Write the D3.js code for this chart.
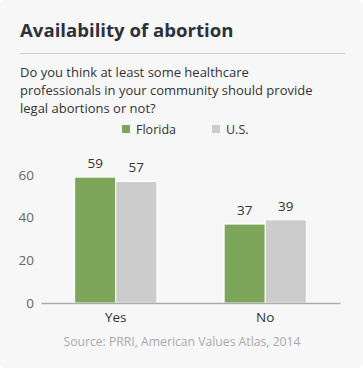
<!DOCTYPE html>
<html>
<head>
<meta charset="utf-8">
<script src="https://cdn.jsdelivr.net/npm/d3@7"></script>
<style>
  body { margin: 0; background: #fff; font-family: "Open Sans", sans-serif; }
</style>
</head>
<body>
<div id="chart"></div>
<script>
var categories = ["Yes", "No"];
var seriesNames = ["Florida", "U.S."];
var florida = [59, 37];
var us = [57, 39];
var yTicks = [0, 20, 40, 60];
var colors = ["#7ea65a", "#cccccc"];

var width = 363, height = 369;

var svg = d3.select("#chart").append("svg")
    .attr("width", width)
    .attr("height", height);

// card background
svg.append("rect")
    .attr("x", 0).attr("y", 0)
    .attr("width", 363).attr("height", 368)
    .attr("rx", 5)
    .attr("fill", "#f7f7f7");

svg.append("text")
    .attr("x", 20).attr("y", 37)
    .attr("font-size", "18.6px")
    .attr("font-weight", "bold")
    .attr("fill", "#2d313b")
    .text("Availability of abortion");

svg.append("line")
    .attr("x1", 20).attr("x2", 345)
    .attr("y1", 53.5).attr("y2", 53.5)
    .attr("stroke", "#cccccc");

var subtitle = ["Do you think at least some healthcare",
    "professionals in your community should provide",
    "legal abortions or not?"];
svg.append("g").selectAll("text")
    .data(subtitle)
    .enter().append("text")
    .attr("x", 20)
    .attr("y", function(d, i) { return 77 + i * 18; })
    .attr("font-size", "13px")
    .attr("fill", "#333")
    .text(function(d) { return d; });

// legend
var legendX = [122, 212];
var legend = svg.append("g").selectAll("g")
    .data(seriesNames)
    .enter().append("g")
    .attr("transform", function(d, i) { return "translate(" + legendX[i] + ",125)"; });
legend.append("rect")
    .attr("width", 8).attr("height", 8)
    .attr("fill", function(d, i) { return colors[i]; });
legend.append("text")
    .attr("x", 14).attr("y", 9)
    .attr("font-size", "12.5px")
    .attr("fill", "#333")
    .text(function(d) { return d; });

var data = categories.map(function(c, i) {
    return { cat: c, values: [florida[i], us[i]] };
});

var x0 = d3.scaleBand()
    .domain(categories)
    .range([41, 340])
    .paddingInner(0.45)
    .paddingOuter(0.225);

var x1 = d3.scaleBand()
    .domain(d3.range(seriesNames.length))
    .range([0, x0.bandwidth()]);

var y = d3.scaleLinear()
    .domain([0, 60])
    .range([303, 175]);

// y axis labels
var yAxis = svg.append("g")
    .attr("transform", "translate(34,0)")
    .call(d3.axisLeft(y).tickValues(yTicks).tickSize(0).tickPadding(0));
yAxis.select(".domain").remove();
yAxis.selectAll("text")
    .attr("font-family", "Open Sans, sans-serif")
    .attr("font-size", "13.5px")
    .attr("fill", "#666");

var groups = svg.append("g").selectAll("g")
    .data(data)
    .enter().append("g")
    .attr("transform", function(d) { return "translate(" + x0(d.cat) + ",0)"; });

groups.selectAll("rect")
    .data(function(d) { return d.values; })
    .enter().append("rect")
    .attr("x", function(d, i) { return x1(i); })
    .attr("y", function(d) { return y(d); })
    .attr("width", x1.bandwidth())
    .attr("height", function(d) { return y(0) - y(d); })
    .attr("fill", function(d, i) { return colors[i]; })
    .attr("stroke", "#fff")
    .attr("stroke-width", 1);

groups.selectAll(".val")
    .data(function(d) { return d.values; })
    .enter().append("text")
    .attr("class", "val")
    .attr("x", function(d, i) { return x1(i) + x1.bandwidth() / 2; })
    .attr("y", function(d) { return y(d) - 9; })
    .attr("text-anchor", "middle")
    .attr("font-size", "13.5px")
    .attr("fill", "#333")
    .text(function(d) { return d; });

// x axis
var xAxis = svg.append("g")
    .attr("transform", "translate(0,303)")
    .call(d3.axisBottom(x0).tickSize(0).tickPadding(9));
xAxis.select(".domain")
    .attr("stroke", "#aaaaaa")
    .attr("stroke-width", 1.5);
xAxis.selectAll("text")
    .attr("font-family", "Open Sans, sans-serif")
    .attr("font-size", "13.5px")
    .attr("fill", "#333");

svg.append("text")
    .attr("x", 182).attr("y", 346)
    .attr("text-anchor", "middle")
    .attr("font-size", "12.2px")
    .attr("fill", "#aaaaaa")
    .text("Source: PRRI, American Values Atlas, 2014");
</script>
</body>
</html>
